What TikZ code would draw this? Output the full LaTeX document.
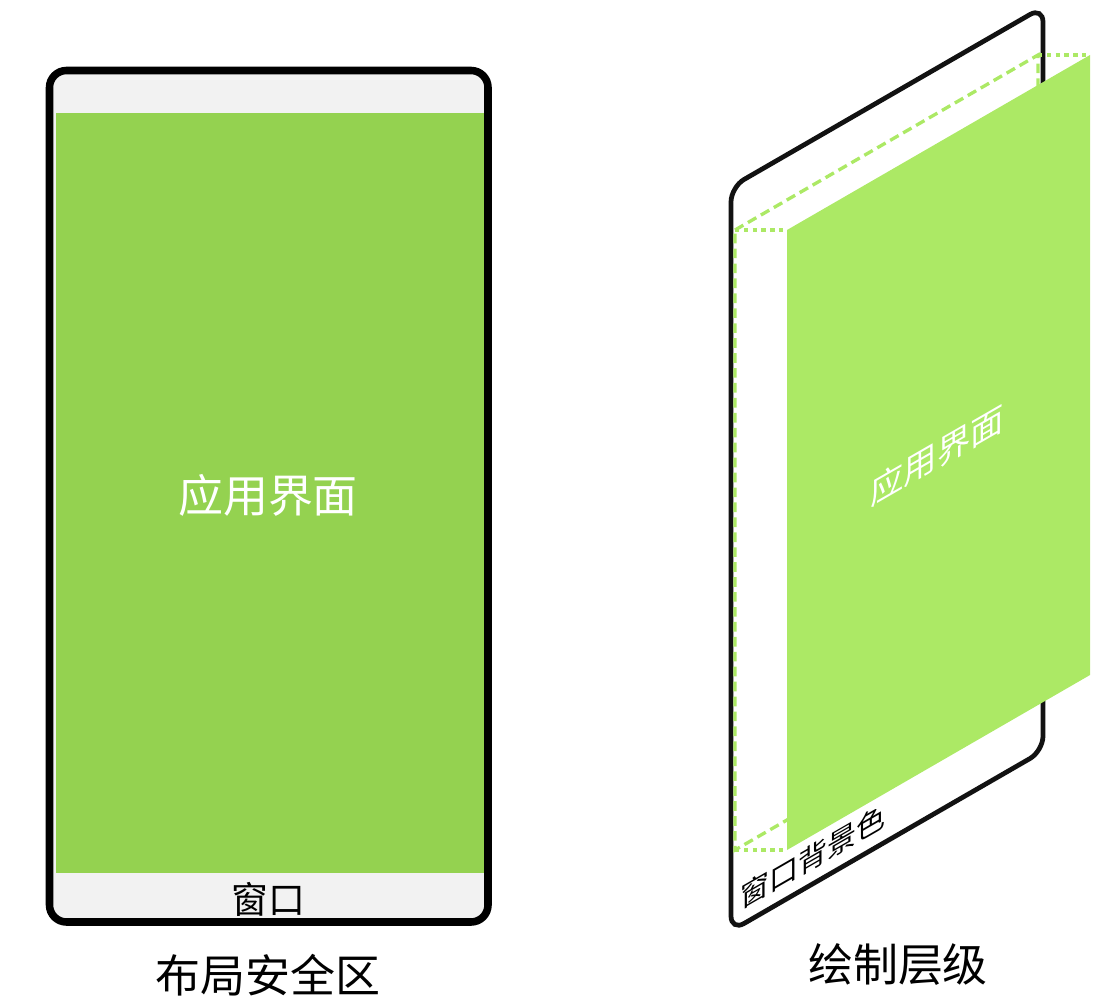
\documentclass[tikz,border=0pt]{standalone}
\usepackage{fontspec}
\setmainfont{Noto Sans CJK SC}
\definecolor{appgreen}{HTML}{94D250}
\definecolor{layergreen}{HTML}{ACE965}
\definecolor{wingray}{HTML}{F2F2F2}

\begin{document}
\begin{tikzpicture}[x=0.02cm, y=-0.02cm,
    big/.style={font=\fontsize{25.6}{30}\selectfont},
    guide/.style={color=layergreen, line width=1.9pt, dash pattern=on 5.5pt off 3pt},
    dots/.style={color=layergreen, line width=2.6pt, dash pattern=on 2.5pt off 2.5pt}]
    \useasboundingbox (0,0) rectangle (1111,1003);
    \draw [line width=4.3pt, fill=wingray, rounded corners=0.34cm] (49.5,70.5) rectangle (488,922);
    \fill [appgreen] (56,113) rectangle (484,873);
    \node (app) at (268,495) [big, text=white] {应用界面};
    \node (win) at (268,899) [font=\fontsize{21}{25}\selectfont] {窗口};
    \node (safe) at (268,975) [big] {布局安全区};

    \coordinate (DTL) at (735,230);
    \coordinate (DTR) at (1038,55);
    \coordinate (DBR) at (1038,675);
    \coordinate (DBL) at (735,850);
    \coordinate (GTL) at (787,230);
    \coordinate (GTR) at (1090,55);
    \coordinate (GBR) at (1090,675);
    \coordinate (GBL) at (787,850);
    \draw [line width=2.7pt, color=black!93, rounded corners=0.3cm] (731,187) -- (1043,7) -- (1043,751) -- (731,931) -- cycle;
    \draw [guide] (DTL) -- (DTR) -- (DBR) -- (DBL) -- cycle;
    \draw [dots] (DTL) -- (GTL);
    \draw [dots] (DTR) -- (GTR);
    \draw [dots] (DBL) -- (GBL);
    \fill [layergreen] (GTL) -- (GTR) -- (GBR) -- (GBL) -- cycle;
    \node (ui) at (937,455) [yslant=0.577, text=white, font=\fontsize{19}{22}\selectfont] {应用界面};
    \node (bg) at (813,857) [yslant=0.577, font=\fontsize{16.5}{19}\selectfont] {窗口背景色};
    \node (layer) at (898,965) [big] {绘制层级};
\end{tikzpicture}
\end{document}
